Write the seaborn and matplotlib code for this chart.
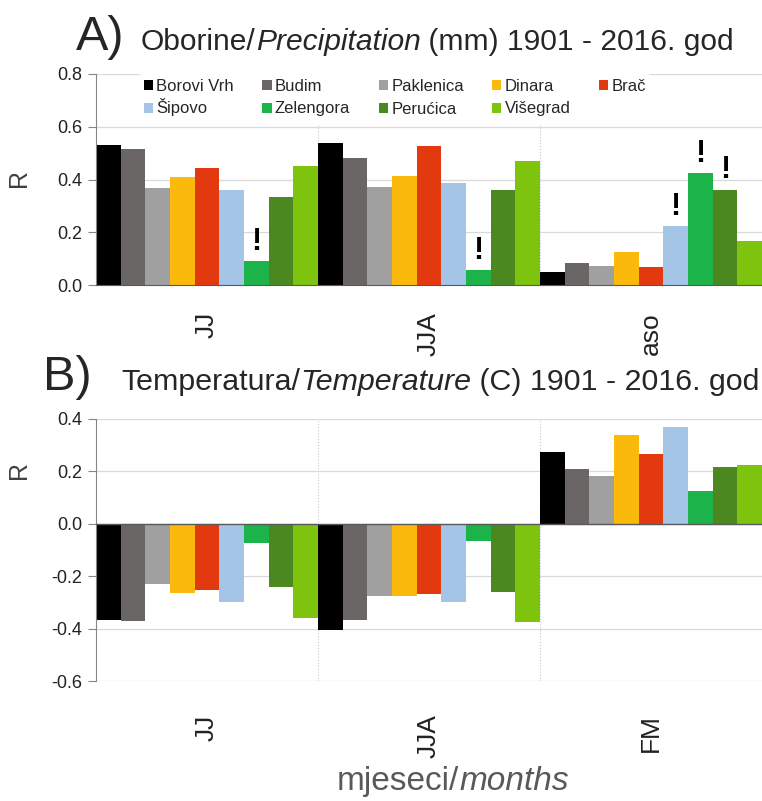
import pandas as pd
import matplotlib
matplotlib.use("Agg")
import matplotlib.pyplot as plt
import seaborn as sns
from matplotlib.patches import Patch
from matplotlib.ticker import FormatStrFormatter
from matplotlib.transforms import Affine2D

# Stations and their colours
stations = ['Borovi Vrh', 'Budim', 'Paklenica', 'Dinara', 'Brač',
            'Šipovo', 'Zelengora', 'Perućica', 'Višegrad']
colors = ['#000000', '#6b6666', '#a0a0a0', '#fbb90c', '#e2390f',
          '#a4c5e6', '#1cb34b', '#4b8820', '#7ec40f']

# A) precipitation correlations
months_prec = ['JJ', 'JJA', 'aso']
prec_JJ = [0.531, 0.516, 0.366, 0.410, 0.445, 0.359, 0.092, 0.334, 0.451]
prec_JJA = [0.540, 0.480, 0.372, 0.413, 0.527, 0.387, 0.056, 0.362, 0.470]
prec_aso = [0.048, 0.085, 0.073, 0.127, 0.069, 0.222, 0.425, 0.362, 0.166]

# B) temperature correlations
months_temp = ['JJ', 'JJA', 'FM']
temp_JJ = [-0.366, -0.370, -0.229, -0.264, -0.254, -0.300, -0.074, -0.241, -0.359]
temp_JJA = [-0.404, -0.368, -0.277, -0.274, -0.268, -0.300, -0.065, -0.260, -0.373]
temp_FM = [0.273, 0.208, 0.182, 0.339, 0.267, 0.368, 0.124, 0.218, 0.225]

# stations marked with "!" in panel A
flags_prec = {'JJ': ['Zelengora'], 'JJA': ['Zelengora'],
              'aso': ['Šipovo', 'Zelengora', 'Perućica']}


def long_table(months, series):
    rows = []
    for m, vals in zip(months, series):
        for s, v in zip(stations, vals):
            rows.append({'month': m, 'station': s, 'R': v})
    return pd.DataFrame(rows)


df_prec = long_table(months_prec, [prec_JJ, prec_JJA, prec_aso])
df_temp = long_table(months_temp, [temp_JJ, temp_JJA, temp_FM])

sns.set_style('white')
plt.rcParams['font.family'] = ['Liberation Sans', 'DejaVu Sans']
plt.rcParams['axes.unicode_minus'] = False

W, H = 762, 801
fig = plt.figure(figsize=(W / 100, H / 100), dpi=100)
axA = fig.add_axes([96 / W, 1 - 285 / H, 666 / W, (285 - 74) / H])
axB = fig.add_axes([96 / W, 1 - 681 / H, 666 / W, (681 - 419) / H])

palette = dict(zip(stations, colors))
grid_c = '#d9d9d9'
spine_c = '#868686'


def draw(ax, df, months, ylim, yticks, pad):
    sns.barplot(data=df, x='month', y='R', hue='station', order=months,
                hue_order=stations, palette=palette, width=1, errorbar=None,
                saturation=1, linewidth=0, legend=False, ax=ax)
    ax.set_xlim(-0.5, len(months) - 0.5)
    ax.set_ylim(*ylim)
    ax.set_yticks(yticks)
    ax.yaxis.set_major_formatter(FormatStrFormatter('%.1f'))
    ax.set_axisbelow(True)
    ax.grid(axis='y', color=grid_c, lw=0.9)
    ax.grid(axis='x', visible=False)
    for x in [0.5, 1.5]:
        ax.axvline(x, color='#c8c8c8', lw=0.8, ls=':', zorder=0)
    for side in ['top', 'right']:
        ax.spines[side].set_visible(False)
    ax.spines['left'].set_color(spine_c)
    ax.tick_params(axis='y', left=True, length=6, color=spine_c,
                   labelsize=13, pad=4, labelcolor='#222222')
    ax.tick_params(axis='x', length=0, labelsize=19, pad=pad,
                   labelrotation=90, labelcolor='#222222')
    ax.set_xlabel('')
    ax.set_ylabel('')


draw(axA, df_prec, months_prec, (0, 0.8), [0, 0.2, 0.4, 0.6, 0.8], 19.5)
axA.spines['bottom'].set_color('#595959')
axA.set_xticks([0.5, 1.5], minor=True)
axA.tick_params(axis='x', which='minor', length=19, color='#d0d0d0', width=0.8)

draw(axB, df_temp, months_temp, (-0.6, 0.4), [-0.6, -0.4, -0.2, 0, 0.2, 0.4], 24)
axB.spines['bottom'].set_visible(False)
axB.axhline(0, color='#595959', lw=1, zorder=3)

# exclamation marks over flagged bars
for si, s in enumerate(stations):
    bars = axA.containers[si]
    for mi, m in enumerate(months_prec):
        if s in flags_prec[m]:
            b = bars[mi]
            axA.annotate('!', (b.get_x() + b.get_width() / 2, b.get_height()),
                         xytext=(0, 8), textcoords='offset points',
                         ha='center', va='baseline', fontsize=22,
                         fontweight='bold', color='black')

renderer = fig.canvas.get_renderer()

# legend (row-wise order for 5 columns)
order = [0, 5, 1, 6, 2, 7, 3, 8, 4]
handles = [Patch(facecolor=colors[i], edgecolor='none', label=stations[i]) for i in order]
leg = axA.legend(handles=handles, ncol=5, loc='upper left',
                 bbox_to_anchor=(139 / W, 1 - 74 / H), bbox_transform=fig.transFigure,
                 frameon=True, fontsize=12, handlelength=0.55, handleheight=0.55,
                 handletextpad=0.2, columnspacing=1.7, labelspacing=0.45,
                 borderpad=0.3, borderaxespad=0)
leg.get_frame().set_facecolor('white')
leg.get_frame().set_edgecolor('none')
leg.get_frame().set_alpha(1)

# the capital caron makes "Šipovo" taller; lift it back onto the row
prop = leg.texts[1].get_fontproperties()
_, h1, d1 = renderer.get_text_width_height_descent('Šipovo', prop, ismath=False)
_, h2, d2 = renderer.get_text_width_height_descent('lp', prop, ismath=False)
dy = (h1 - d1) - (h2 - d2)
shift = Affine2D().translate(0, dy)
txt = leg.texts[1]
txt.set_transform(txt.get_transform() + shift)
patch = leg.legend_handles[1]
patch.set_transform(patch.get_data_transform() + shift)

# y labels
for yc in [178, 470]:
    fig.text(19 / W, 1 - yc / H, 'R', rotation=90, ha='center', va='center',
             fontsize=18, color='#404040')


def rich_text(x_px, y_px, pieces):
    x = x_px / W
    for text, kw in pieces:
        t = fig.text(x, 1 - y_px / H, text, ha='left', va='baseline', **kw)
        x += t.get_window_extent(renderer=renderer).width / fig.bbox.width


fig.text(76 / W, 1 - 50 / H, 'A)', fontsize=35, va='baseline', ha='left')
rich_text(141, 50, [('Oborine/', dict(fontsize=21.6)),
                    ('Precipitation', dict(fontsize=21.6, style='italic')),
                    (' (mm) 1901 - 2016. god', dict(fontsize=21.6))])

fig.text(43 / W, 1 - 390 / H, 'B)', fontsize=35, va='baseline', ha='left')
rich_text(121, 390, [('Temperatura/', dict(fontsize=21.85)),
                     ('Temperature', dict(fontsize=21.85, style='italic')),
                     (' (C) 1901 - 2016. god', dict(fontsize=21.85))])

rich_text(337, 790, [('mjeseci/', dict(fontsize=24, color='#595959')),
                     ('months', dict(fontsize=24, color='#595959', style='italic'))])

fig.savefig('out.png', dpi=100)
